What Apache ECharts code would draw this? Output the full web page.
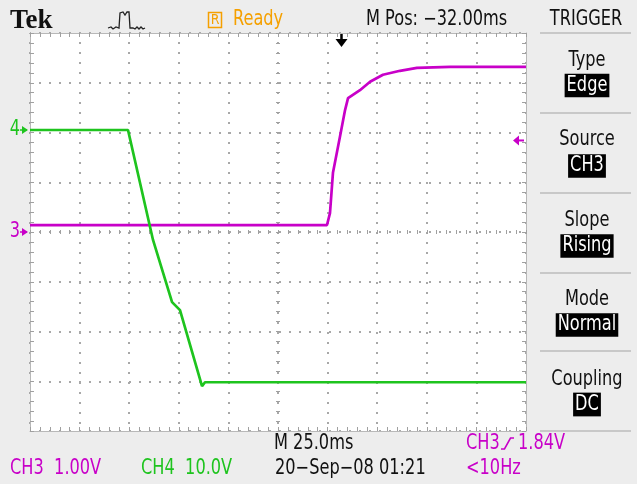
<!DOCTYPE html>
<html><head><meta charset="utf-8">
<script src="https://cdn.jsdelivr.net/npm/echarts@6/dist/echarts.min.js"></script>
<style>html,body{margin:0;padding:0;background:#ededed}#c{width:637px;height:484px}</style>
</head><body><div id="c"></div>
<script>
// Horizontal: time in ms (0..250, 25 ms/div). Vertical: screen divisions (0..8).
const ch4Time = [0, 49.4, 62.0, 71.6, 75.6, 86.7, 88.2, 250];
const ch4Div  = [6.05, 6.05, 3.84, 2.59, 2.43, 0.90, 0.98, 0.98];
const ch3Time = [0, 149.7, 151.2, 152.7, 156.2, 158.8, 160.3, 166.3, 171.4, 177.9, 186.5, 195.0, 211.7, 250];
const ch3Div  = [4.14, 4.14, 4.38, 5.19, 5.91, 6.45, 6.69, 6.85, 7.02, 7.16, 7.24, 7.30, 7.32, 7.32];
const ch3Ground = 4.0, ch4Ground = 6.05;
const triggerTime = 157, triggerLevel = 5.84;
const timeRange = [0, 250], timePerDiv = 25;
const divRange = [0, 8];

const topTexts = { brand: 'Tek', status: 'Ready', mpos: 'M Pos: \u221232.00ms', panel: 'TRIGGER' };
const menuLabels = ['Type', 'Source', 'Slope', 'Mode', 'Coupling'];
const menuValues = ['Edge', 'CH3', 'Rising', 'Normal', 'DC'];
const bottomTexts = { timebase: 'M 25.0ms', trigSrc: 'CH3', trigLvl: '1.84V', ch3: 'CH3  1.00V', ch4: 'CH4  10.0V', date: '20\u2212Sep\u221208 01:21', freq: '<10Hz' };

const MAG = '#c800c8', GRN = '#1ec41e', ORG = '#f5a000', INK = '#111';
const F = "'DejaVu Sans Condensed','Liberation Sans Narrow','DejaVu Sans',sans-serif";
const G = { left: 30, top: 33, width: 496, height: 398 };

const chart = echarts.init(document.getElementById('c'), null, { renderer: 'canvas' });
const tickC = '#a0a0a0';
const dotLine = { show: true, lineStyle: { color: '#a8a8a8', width: 2, type: [2, 8], dashOffset: 1 } };
function edgeX(pos, split) {
  return { gridIndex: 0, type: 'value', position: pos, min: timeRange[0], max: timeRange[1], interval: timePerDiv,
    axisLine: { show: true, onZero: false, lineStyle: { color: '#b8b8b8', width: 1 } },
    axisTick: { show: true, inside: true, length: 4, lineStyle: { color: tickC } },
    minorTick: { show: true, splitNumber: 5, length: 4, lineStyle: { color: tickC } },
    axisLabel: { show: false }, splitLine: split ? dotLine : { show: false } };
}
function edgeY(pos, split) {
  return { gridIndex: 0, type: 'value', position: pos, min: divRange[0], max: divRange[1], interval: 1,
    axisLine: { show: true, onZero: false, lineStyle: { color: '#b8b8b8', width: 1 } },
    axisTick: { show: true, inside: true, length: 4, lineStyle: { color: tickC } },
    minorTick: { show: true, splitNumber: 5, length: 4, lineStyle: { color: tickC } },
    axisLabel: { show: false }, splitLine: split ? dotLine : { show: false } };
}
function centerX(pos) {
  return { gridIndex: 1, type: 'value', position: pos, min: timeRange[0], max: timeRange[1], interval: timePerDiv,
    axisLine: { show: false, onZero: false }, axisTick: { show: true, inside: false, length: 2, lineStyle: { color: tickC } },
    minorTick: { show: true, splitNumber: 5, length: 2, lineStyle: { color: tickC } },
    axisLabel: { show: false }, splitLine: { show: false } };
}
function centerY(pos) {
  return { gridIndex: 2, type: 'value', position: pos, min: divRange[0], max: divRange[1], interval: 1,
    axisLine: { show: false, onZero: false }, axisTick: { show: true, inside: false, length: 2, lineStyle: { color: tickC } },
    minorTick: { show: true, splitNumber: 5, length: 2, lineStyle: { color: tickC } },
    axisLabel: { show: false }, splitLine: { show: false } };
}
const hidden = (gi, min, max) => ({ gridIndex: gi, type: 'value', show: false, min, max, axisLine: { onZero: false } });

chart.setOption({
  animation: false,
  backgroundColor: '#ededed',
  grid: [
    { left: G.left, top: G.top, width: G.width, height: G.height, show: true, backgroundColor: '#ffffff', borderWidth: 0 },
    { left: G.left, top: G.top + G.height / 2, width: G.width, height: 0 },
    { left: G.left + G.width / 2, top: G.top, width: 0, height: G.height }
  ],
  xAxis: [edgeX('bottom', true), edgeX('top', false), centerX('bottom'), centerX('top'), hidden(2, 0, 1)],
  yAxis: [edgeY('left', true), edgeY('right', false), hidden(1, 0, 1), centerY('left'), centerY('right')],
  series: [
    { type: 'line', xAxisIndex: 0, yAxisIndex: 0, data: ch3Time.map((t, i) => [t, ch3Div[i]]), showSymbol: false,
      lineStyle: { color: MAG, width: 2.7 }, itemStyle: { color: MAG }, z: 5 },
    { type: 'line', xAxisIndex: 0, yAxisIndex: 0, data: ch4Time.map((t, i) => [t, ch4Div[i]]), showSymbol: false,
      lineStyle: { color: GRN, width: 2.7 }, itemStyle: { color: GRN }, z: 6 }
  ]
});

const px = (t, d) => chart.convertToPixel({ gridIndex: 0 }, [t, d]);
const txt = (text, x, y, o = {}, sy = 1.13) => ({ type: 'text', x, y, scaleY: sy, z: 100, silent: true,
  style: Object.assign({ text, fill: INK, font: '18px ' + F, align: 'left', verticalAlign: 'middle' }, o) });
const g = [];
// top bar
g.push(txt(topTexts.brand, 10, 21, { font: 'bold 27px "Liberation Serif","DejaVu Serif",serif' }, 1));
g.push({ type: 'polyline', z: 100, shape: { points: [[108,28],[111,27],[113,29],[116,27],[119,28],[120,13],[123,12],[125,15],[127,12],[129,12],[130,28],[133,28],[135,29],[137,27],[139,29],[141,27],[143,29],[145,28]] }, style: { stroke: '#222', lineWidth: 1.3, fill: null } });
g.push({ type: 'rect', z: 100, shape: { x: 208.5, y: 12.5, width: 13, height: 15 }, style: { stroke: ORG, lineWidth: 1.5, fill: null } });
g.push(txt('R', 215, 20, { fill: ORG, align: 'center', font: '14px ' + F }, 1));
g.push(txt(topTexts.status, 233, 19.5, { fill: ORG }));
g.push(txt(topTexts.mpos, 366, 19.5));
g.push(txt(topTexts.panel, 586, 19.5, { align: 'center' }));
// right panel
const sepY = [33, 113, 193, 273, 351, 431];
sepY.forEach(y => g.push({ type: 'line', z: 100, shape: { x1: 540, y1: y, x2: 631, y2: y }, style: { stroke: '#c8c8c8', lineWidth: 2 } }));
const labY = [60.5, 140, 220.5, 299.5, 379.5], valY = [85.5, 166, 246, 325, 404.5];
menuLabels.forEach((l, i) => {
  g.push(txt(l, 587, labY[i], { align: 'center' }));
  g.push(txt(menuValues[i], 587, valY[i], { align: 'center', fill: '#fff', backgroundColor: '#000', padding: [2, 2, 1, 2] }));
});
// bottom
g.push(txt(bottomTexts.timebase, 274, 443.5));
g.push(txt(bottomTexts.trigSrc, 466, 443.5, { fill: MAG }));
g.push({ type: 'polyline', z: 100, shape: { points: [[501,449],[504.5,449],[510.5,438],[514,438]] }, style: { stroke: MAG, lineWidth: 1.6, fill: null } });
g.push(txt(bottomTexts.trigLvl, 518, 443.5, { fill: MAG }));
g.push(txt(bottomTexts.ch3, 10, 469, { fill: MAG }));
g.push(txt(bottomTexts.ch4, 141, 469, { fill: GRN }));
g.push(txt(bottomTexts.date, 275, 469));
g.push(txt(bottomTexts.freq, 466, 469, { fill: MAG }));
// ground markers
[[ch4Ground, '4', GRN], [ch3Ground, '3', MAG]].forEach(([d, lab, c]) => {
  const y = px(0, d)[1];
  g.push(txt(lab, 15, y, { fill: c, align: 'center' }));
  g.push({ type: 'polygon', z: 100, shape: { points: [[22, y - 4], [28, y], [22, y + 4]] }, style: { fill: c } });
  g.push({ type: 'line', z: 100, shape: { x1: 20, y1: y, x2: 27, y2: y }, style: { stroke: c, lineWidth: 1.5 } });
});
// trigger level marker (right)
{
  const p = px(timeRange[1], triggerLevel);
  const x = p[0], y = p[1];
  g.push({ type: 'polygon', z: 100, shape: { points: [[x - 13, y], [x - 7, y - 5], [x - 7, y + 5]] }, style: { fill: MAG } });
  g.push({ type: 'line', z: 100, shape: { x1: x - 8, y1: y, x2: x - 2, y2: y }, style: { stroke: MAG, lineWidth: 2 } });
}
// trigger position marker (top)
{
  const p = px(triggerTime, divRange[1]);
  const x = p[0], y = p[1];
  g.push({ type: 'line', z: 100, shape: { x1: x, y1: y + 1, x2: x, y2: y + 8 }, style: { stroke: '#000', lineWidth: 2.5 } });
  g.push({ type: 'polygon', z: 100, shape: { points: [[x - 6, y + 6], [x + 6, y + 6], [x, y + 14]] }, style: { fill: '#000' } });
}
chart.setOption({ graphic: g });
</script></body></html>
